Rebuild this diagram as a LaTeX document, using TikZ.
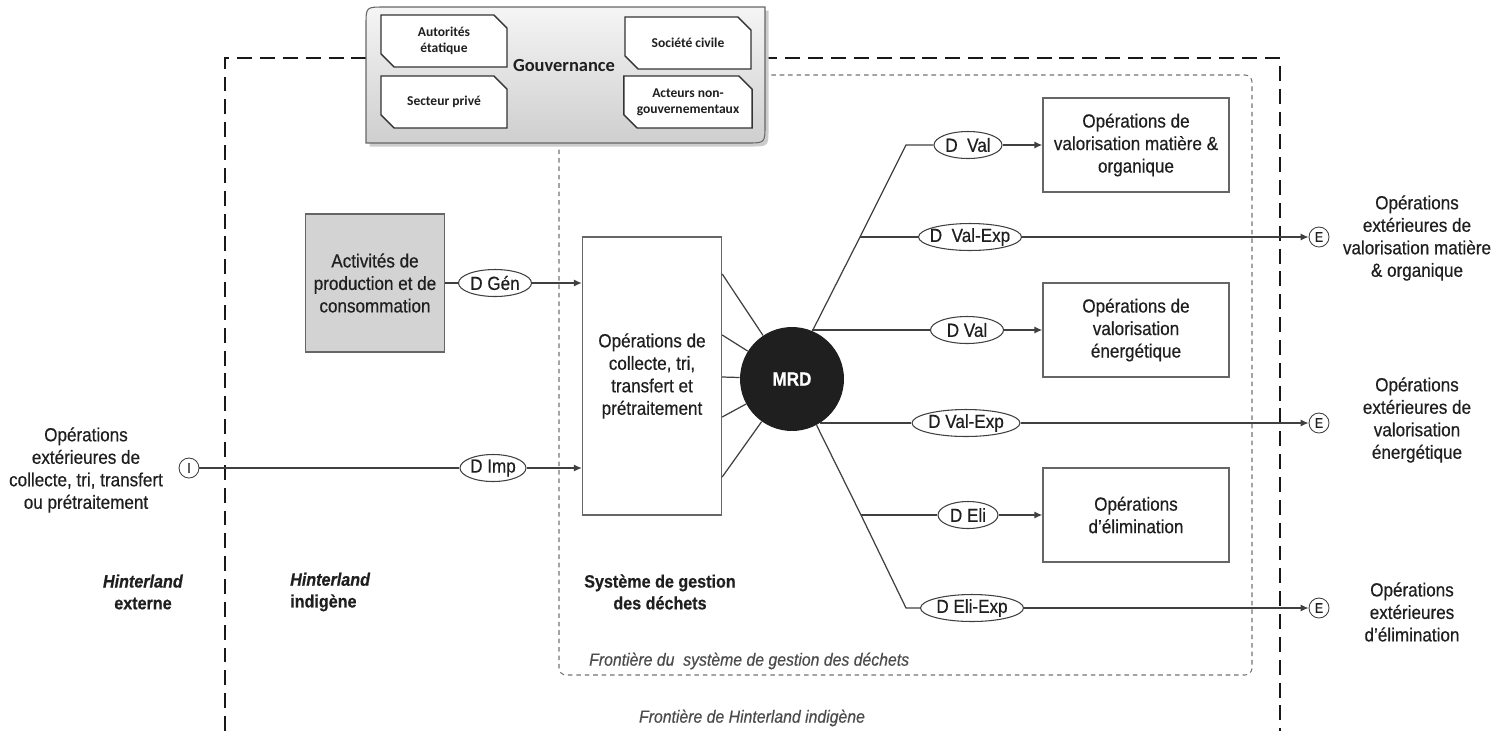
\documentclass[tikz,border=0pt]{standalone}
\usepackage{fontspec}
\setmainfont{Liberation Sans}[FakeStretch=0.9, FakeBold=0.5]
\newfontfamily\govfont{Carlito}
\usetikzlibrary{shapes.geometric, shapes.misc, arrows.meta}
\definecolor{trait}{HTML}{404040}
\definecolor{bord}{HTML}{666666}
\definecolor{grisact}{HTML}{D3D3D3}
\tikzstyle{op} = [rectangle, draw=bord, line width=0.8pt, minimum width=3.72cm, minimum height=1.88cm, text centered, align=center, inner sep=1pt]
\tikzstyle{prod} = [rectangle, draw=bord, line width=0.8pt, fill=grisact, minimum width=2.78cm, minimum height=2.76cm, align=center]
\tikzstyle{flux} = [ellipse, draw=trait, line width=0.6pt, fill=white, inner xsep=-3pt, inner ysep=0pt, minimum height=0.54cm]
\tikzstyle{borne} = [circle, draw=trait, line width=0.5pt, fill=white, inner sep=0pt, minimum size=0.4cm, font=\fontsize{8}{9}\selectfont]
\tikzstyle{acteur} = [chamfered rectangle, chamfered rectangle corners={north east, south west}, chamfered rectangle xsep=4pt, draw=black!80, line width=0.8pt, fill=white, minimum width=2.52cm, minimum height=1.04cm, align=center, font=\govfont\bfseries\fontsize{7.7}{9}\selectfont]
\tikzstyle{exterieur} = [align=center]
\tikzstyle{zone} = [align=center, font=\bfseries\fontsize{10.2}{12.4}\selectfont]
\tikzstyle{frontiere} = [text=black!70, font=\itshape\fontsize{10}{12}\selectfont]
\tikzstyle{lien} = [draw=trait, line width=0.7pt]
\tikzstyle{arrow} = [lien, ->, >={Latex[length=4.5pt,width=4pt]}]

\begin{document}
\begin{tikzpicture}[x=0.02cm, y=-0.02cm, font=\fontsize{10.8}{12.8}\selectfont, text=black!88]
	\useasboundingbox (0,0) rectangle (1508,731);
	% frontieres
	\draw[black!90, line width=1.4pt, dash pattern=on 8.5pt off 4.5pt] (225,731) -- (225,58) -- (1280,58) -- (1280,731);
	\draw[black!55, line width=0.6pt, dash pattern=on 2.6pt off 2.2pt, rounded corners=4pt] (559,75) rectangle (1252,675);
	% gouvernance
	\fill[black!20, xshift=2pt, yshift=-2pt] (366,143) -- (366,25) .. controls (366,7) .. (384,7) -- (765,7) -- (765,125) .. controls (765,143) .. (747,143) -- cycle;
	\shade[top color=gray!8, bottom color=gray!38, draw=black!60, line width=0.6pt] (366,143) -- (366,25) .. controls (366,7) .. (384,7) -- (765,7) -- (765,125) .. controls (765,143) .. (747,143) -- cycle;
	\node[font=\govfont\bfseries\fontsize{10.5}{12}\selectfont] (gouv) at (564,66) {Gouvernance};
	\node[acteur] (etat) at (444,41) {Autorités\\étatique};
	\node[acteur] (prive) at (444,102) {Secteur privé};
	\node[acteur] (civile) at (688,43) {Société civile};
	\node[acteur] (ong) at (688,102) {Acteurs non-\\gouvernementaux};

	\node[prod] (activ) at (375,283) {Activités de\\production et de\\consommation};
	\node[op, minimum width=2.78cm, minimum height=5.56cm] (collecte) at (652,376) {Opérations de\\collecte, tri,\\transfert et\\prétraitement};
	\node[circle, fill=black!88, minimum size=2.08cm, text=white, font=\bfseries\fontsize{10.8}{13}\selectfont] (mrd) at (792,379) {MRD};
	\node[op] (valmat) at (1136,145) {Opérations de\\valorisation matière \&\\organique};
	\node[op] (valen) at (1136,330) {Opérations de\\valorisation\\énergétique};
	\node[op] (elim) at (1136,515) {Opérations\\d'élimination};

	\node[flux, minimum width=1.46cm] (dgen) at (495,283) {D Gén};
	\node[flux, minimum width=1.32cm] (dimp) at (493,468) {D Imp};
	\node[flux, minimum width=1.36cm] (dval1) at (968,145) {D\ \ Val};
	\node[flux, minimum width=2.06cm] (dvexp1) at (970,237) {D\ \ Val-Exp};
	\node[flux, minimum width=1.46cm] (dval2) at (967,330) {D Val};
	\node[flux, minimum width=2.16cm] (dvexp2) at (966,423) {D Val-Exp};
	\node[flux, minimum width=1.2cm] (deli) at (968,515) {D Eli};
	\node[flux, minimum width=2.06cm] (deexp) at (972,608) {D Eli-Exp};

	\node[borne] (imp) at (189,468) {I};
	\node[borne] (e1) at (1319,237) {E};
	\node[borne] (e2) at (1319,423) {E};
	\node[borne] (e3) at (1319,608) {E};

	\node[exterieur] (extcol) at (86,470) {Opérations\\extérieures de\\collecte, tri, transfert\\ou prétraitement};
	\node[exterieur] (extval) at (1417,238) {Opérations\\extérieures de\\valorisation matière\\\& organique};
	\node[exterieur] (exten) at (1417,420) {Opérations\\extérieures de\\valorisation\\énergétique};
	\node[exterieur] (extelim) at (1412,612) {Opérations\\extérieures\\d'élimination};

	\node[zone] (hext) at (143,592) {\textit{Hinterland}\\externe};
	\node[zone, align=left, anchor=west] (hind) at (284,592) {\textit{Hinterland}\\indigène};
	\node[zone] (sysg) at (660,592) {Système de gestion\\des déchets};
	\node[frontiere, anchor=west] (fsys) at (583,661) {Frontière du\ \ système de gestion des déchets};
	\node[frontiere] (fhint) at (752,718) {Frontière de Hinterland indigène};

	\coordinate (kh) at (906,145);
	\coordinate (bh) at (860,237);
	\coordinate (bb) at (861,515);
	\coordinate (kb) at (906,608);

	\draw[lien] (activ) -- (dgen);
	\draw[arrow] (dgen) -- (dgen -| collecte.west);
	\draw[lien] (imp) -- (dimp);
	\draw[arrow] (dimp) -- (dimp -| collecte.west);
	\draw[lien] (collecte.east |- 0,274) -- (mrd);
	\draw[lien] (collecte.east |- 0,335) -- (mrd);
	\draw[lien] (collecte.east |- 0,377) -- (mrd);
	\draw[lien] (collecte.east |- 0,417) -- (mrd);
	\draw[lien] (collecte.east |- 0,477) -- (mrd);

	\draw[lien] (mrd.67) -- (bh) -- (kh) -- (dval1);
	\draw[arrow] (dval1) -- (valmat);
	\draw[lien] (bh) -- (dvexp1);
	\draw[arrow] (dvexp1) -- (e1);
	\draw[lien] (dval2 -| mrd.67) -- (dval2);
	\draw[arrow] (dval2) -- (valen);
	\draw[lien] (dvexp2 -| mrd.-58) -- (dvexp2);
	\draw[arrow] (dvexp2) -- (e2);
	\draw[lien] (mrd.-62) -- (bb) -- (kb) -- (deexp);
	\draw[lien] (bb) -- (deli);
	\draw[arrow] (deli) -- (elim);
	\draw[arrow] (deexp) -- (e3);
\end{tikzpicture}
\end{document}
